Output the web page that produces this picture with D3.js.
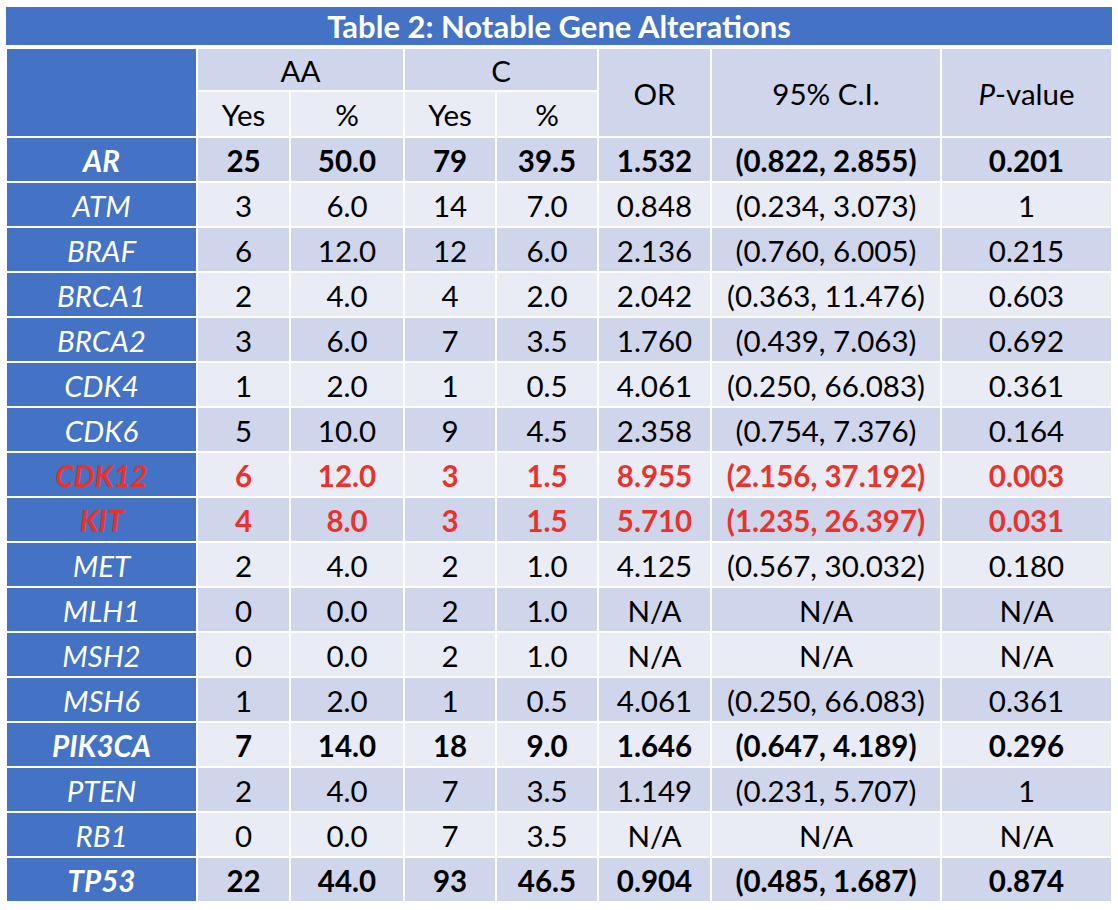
<!DOCTYPE html>
<html><head><meta charset="utf-8">
<script src="https://cdn.jsdelivr.net/npm/d3@7"></script>
<style>body{margin:0;background:#fff}svg{display:block}text{font-family:Lato,"Open Sans",sans-serif}</style>
</head><body>
<svg id="c" width="1118" height="910"></svg>
<script>
const title = "Table 2: Notable Gene Alterations";
const genes = ["AR","ATM","BRAF","BRCA1","BRCA2","CDK4","CDK6","CDK12","KIT","MET","MLH1","MSH2","MSH6","PIK3CA","PTEN","RB1","TP53"];
const aaYes = ["25","3","6","2","3","1","5","6","4","2","0","0","1","7","2","0","22"];
const aaPct = ["50.0","6.0","12.0","4.0","6.0","2.0","10.0","12.0","8.0","4.0","0.0","0.0","2.0","14.0","4.0","0.0","44.0"];
const cYes = ["79","14","12","4","7","1","9","3","3","2","2","2","1","18","7","7","93"];
const cPct = ["39.5","7.0","6.0","2.0","3.5","0.5","4.5","1.5","1.5","1.0","1.0","1.0","0.5","9.0","3.5","3.5","46.5"];
const orVals = ["1.532","0.848","2.136","2.042","1.760","4.061","2.358","8.955","5.710","4.125","N/A","N/A","4.061","1.646","1.149","N/A","0.904"];
const ciVals = ["(0.822, 2.855)","(0.234, 3.073)","(0.760, 6.005)","(0.363, 11.476)","(0.439, 7.063)","(0.250, 66.083)","(0.754, 7.376)","(2.156, 37.192)","(1.235, 26.397)","(0.567, 30.032)","N/A","N/A","(0.250, 66.083)","(0.647, 4.189)","(0.231, 5.707)","N/A","(0.485, 1.687)"];
const pVals = ["0.201","1","0.215","0.603","0.692","0.361","0.164","0.003","0.031","0.180","N/A","N/A","0.361","0.296","1","N/A","0.874"];
const boldGenes = ["AR","PIK3CA","TP53"];
const redGenes = ["CDK12","KIT"];

// layout
const colEdges = [6,197,290,404,496,598,711,941,1112];
const BLUE = "#4472C4", DARK = "#CFD5EA", LIGHT = "#E9EBF5", RED = "#E8322B";
const FS = 29.5;
const svg = d3.select("#c");
const y = d3.scaleBand().domain(genes).range([137, 902]);

// title bar
svg.append("rect").attr("x",6).attr("y",7).attr("width",1106).attr("height",38).attr("fill",BLUE);
svg.append("text").attr("x",559).attr("y",38).attr("text-anchor","middle")
  .attr("fill","#fff").attr("font-weight","bold").attr("font-size",31).text(title);

function cell(x0,x1,y0,y1,fill){
  svg.append("rect").attr("x",x0+1).attr("y",y0+1).attr("width",x1-x0-2).attr("height",y1-y0-2).attr("fill",fill);
}
function txt(x,yc,s,opt={}){
  const t = svg.append("text").attr("x",x).attr("y",yc).attr("dy","0.42em").attr("text-anchor","middle")
    .attr("font-size",FS).attr("fill",opt.fill||"#000");
  if(opt.bold) t.attr("font-weight","bold");
  if(opt.italic) t.attr("font-style","italic");
  t.text(s);
  return t;
}
const cx = i => (colEdges[i]+colEdges[i+1])/2;

// header
const h0=48,h1=91,h2=137;
cell(colEdges[0],colEdges[1],h0,h2,BLUE);
cell(colEdges[1],colEdges[3],h0,h1,DARK);
cell(colEdges[3],colEdges[5],h0,h1,DARK);
for(let i=1;i<5;i++) cell(colEdges[i],colEdges[i+1],h1,h2,LIGHT);
for(let i=5;i<8;i++) cell(colEdges[i],colEdges[i+1],h0,h2,DARK);
txt((colEdges[1]+colEdges[3])/2,(h0+h1)/2,"AA");
txt((colEdges[3]+colEdges[5])/2,(h0+h1)/2,"C");
["Yes","%","Yes","%"].forEach((s,k)=>txt(cx(k+1),(h1+h2)/2,s));
txt(cx(5),(h0+h2)/2,"OR");
txt(cx(6),(h0+h2)/2,"95% C.I.");
const pv = txt(cx(7),(h0+h2)/2,"");
pv.append("tspan").attr("font-style","italic").text("P");
pv.append("tspan").text("-value");

// body
genes.forEach((g,i)=>{
  const y0=y(g), y1=y0+y.bandwidth(), yc=(y0+y1)/2;
  const fill = i%2===0 ? DARK : LIGHT;
  const red = redGenes.includes(g), bold = red || boldGenes.includes(g);
  cell(colEdges[0],colEdges[1],y0,y1,BLUE);
  for(let c=1;c<8;c++) cell(colEdges[c],colEdges[c+1],y0,y1,fill);
  txt(cx(0),yc,g,{fill: red?RED:"#fff", bold, italic:true});
  const vals=[aaYes[i],aaPct[i],cYes[i],cPct[i],orVals[i],ciVals[i],pVals[i]];
  vals.forEach((v,c)=>txt(cx(c+1),yc,v,{fill: red?RED:"#000", bold}));
});
</script>
</body></html>
